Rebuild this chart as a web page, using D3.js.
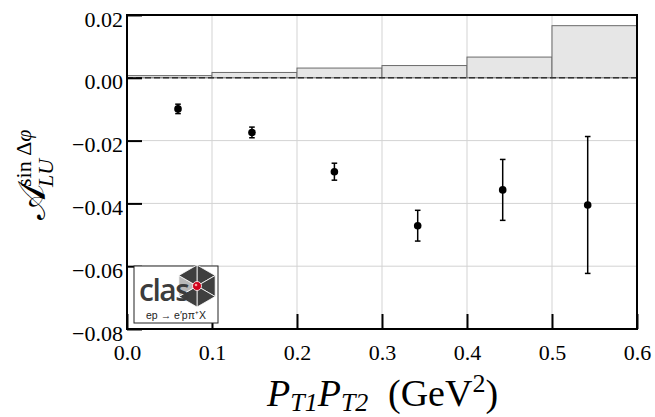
<!DOCTYPE html>
<html lang="en">
<head>
<meta charset="utf-8">
<script src="https://cdn.jsdelivr.net/npm/d3@7/dist/d3.min.js"></script>
<style>
  body { margin: 0; background: #fff; }
</style>
</head>
<body>
<div id="chart"></div>
<script>
// bins of the systematic band (bin edges) and its height
const binEdges = [0.0, 0.1, 0.2, 0.3, 0.4, 0.5, 0.6];
const sysValues = [0.0007, 0.0017, 0.0031, 0.0039, 0.0066, 0.0166];

// measured points
const ptX = [0.060, 0.147, 0.244, 0.342, 0.442, 0.542];
const ptY = [-0.0099, -0.0174, -0.0299, -0.0471, -0.0357, -0.0405];
const ptErr = [0.0015, 0.0017, 0.0027, 0.0049, 0.0097, 0.0218];

const xTicks = [0.0, 0.1, 0.2, 0.3, 0.4, 0.5, 0.6];
const yTicks = [0.02, 0.00, -0.02, -0.04, -0.06, -0.08];

const serif = "'Liberation Serif', 'DejaVu Serif', serif";
const width = 655, height = 417;
const m = { left: 127, right: 18, top: 15, bottom: 88 };

const svg = d3.select("#chart").append("svg")
    .attr("width", width).attr("height", height)
    .style("font-family", serif);

const x = d3.scaleLinear().domain([0, 0.6]).range([m.left, width - m.right]);
const y = d3.scaleLinear().domain([-0.08, 0.02]).range([height - m.bottom, m.top]);

// grid
svg.append("g").selectAll("line")
    .data(xTicks.slice(1, -1)).join("line")
    .attr("x1", d => x(d)).attr("x2", d => x(d))
    .attr("y1", y.range()[1]).attr("y2", y.range()[0])
    .attr("stroke", "#d3d3d3").attr("stroke-width", 1);
svg.append("g").selectAll("line")
    .data(yTicks.slice(1, -1)).join("line")
    .attr("y1", d => y(d)).attr("y2", d => y(d))
    .attr("x1", x.range()[0]).attr("x2", x.range()[1])
    .attr("stroke", "#d3d3d3").attr("stroke-width", 1);

// systematic band
const bins = sysValues.map((v, i) => ({ x0: binEdges[i], x1: binEdges[i + 1], v: v }));
svg.append("g").selectAll("rect")
    .data(bins).join("rect")
    .attr("x", d => x(d.x0)).attr("width", d => x(d.x1) - x(d.x0))
    .attr("y", d => y(d.v)).attr("height", d => y(0) - y(d.v))
    .attr("fill", "#e6e6e6").attr("stroke", "#6a6a6a").attr("stroke-width", 1);

// zero line
svg.append("line")
    .attr("x1", x(0)).attr("x2", x(0.6)).attr("y1", y(0)).attr("y2", y(0))
    .attr("stroke", "#333").attr("stroke-width", 1.6).attr("stroke-dasharray", "6,3");

// points with error bars
const pts = ptX.map((v, i) => ({ x: v, y: ptY[i], e: ptErr[i] }));
const pg = svg.append("g").selectAll("g").data(pts).join("g");
pg.append("line")
    .attr("x1", d => x(d.x)).attr("x2", d => x(d.x))
    .attr("y1", d => y(d.y + d.e)).attr("y2", d => y(d.y - d.e))
    .attr("stroke", "#000").attr("stroke-width", 1.5);
[1, -1].forEach(s => {
  pg.append("line")
    .attr("x1", d => x(d.x) - 2.8).attr("x2", d => x(d.x) + 2.8)
    .attr("y1", d => y(d.y + s * d.e)).attr("y2", d => y(d.y + s * d.e))
    .attr("stroke", "#000").attr("stroke-width", 1.5);
});
pg.append("circle")
    .attr("cx", d => x(d.x)).attr("cy", d => y(d.y)).attr("r", 3.8)
    .attr("fill", "#000");

// frame
svg.append("rect")
    .attr("x", x(0)).attr("y", y(0.02))
    .attr("width", x(0.6) - x(0)).attr("height", y(-0.08) - y(0.02))
    .attr("fill", "none").attr("stroke", "#000").attr("stroke-width", 2);

// axes (ticks inward)
const xAxis = svg.append("g")
    .attr("transform", `translate(0,${y(-0.08)})`)
    .call(d3.axisBottom(x).tickValues(xTicks).tickSizeInner(-15).tickSizeOuter(0)
        .tickFormat(d3.format(".1f")));
xAxis.attr("font-family", null).attr("font-size", 22);
xAxis.select(".domain").remove();
xAxis.selectAll(".tick line").attr("stroke-width", 2);
xAxis.selectAll(".tick text")
    .attr("y", 31).attr("dy", 0).attr("fill", "#000")
    .style("font-family", serif);

const yAxis = svg.append("g")
    .attr("transform", `translate(${x(0)},0)`)
    .call(d3.axisLeft(y).tickValues(yTicks).tickSizeInner(-15).tickSizeOuter(0)
        .tickFormat(d => d3.format(".2f")(d).replace("-", "\u2212")));
yAxis.attr("font-family", null).attr("font-size", 22);
yAxis.select(".domain").remove();
yAxis.selectAll(".tick line").attr("stroke-width", 2);
yAxis.selectAll(".tick text")
    .attr("x", -4).attr("y", 0).attr("dy", 11).attr("fill", "#000")
    .style("font-family", serif);

// x label
const xl = svg.append("text")
    .attr("x", 267).attr("y", 406)
    .attr("font-size", 38);
xl.append("tspan").attr("font-style", "italic").text("P");
xl.append("tspan").attr("font-style", "italic").attr("font-size", 26).attr("dy", 5).text("T1");
xl.append("tspan").attr("font-style", "italic").attr("dy", -5).text("P");
xl.append("tspan").attr("font-style", "italic").attr("font-size", 26).attr("dy", 5).text("T2");
xl.append("tspan").attr("x", 388).attr("dy", -5).text("(GeV");
xl.append("tspan").attr("font-size", 26).attr("dy", -14).text("2");
xl.append("tspan").attr("dy", 14).text(")");

// y label (rotated)
const yl = svg.append("g").attr("transform", "translate(45,220) rotate(-90)");
yl.append("text").attr("x", 0).attr("y", 0)
    .attr("font-size", 38)
    .style("font-family", "'DejaVu Serif', 'Noto Sans', serif")
    .text("\uD835\uDC9C");
yl.append("text").attr("x", 33).attr("y", -14)
    .attr("font-size", 22).text("sin \u0394").append("tspan")
    .attr("font-style", "italic").text("\u03C6");
yl.append("text").attr("x", 33).attr("y", 8)
    .attr("font-size", 22).attr("font-style", "italic").text("LU");

// CLAS logo box
const logo = svg.append("g");
logo.append("rect").attr("x", 134).attr("y", 266).attr("width", 84).attr("height", 57)
    .attr("fill", "#fff").attr("stroke", "#222").attr("stroke-width", 1);
const hc = [197, 286], hr = 21;
const hexPts = d3.range(6).map(i => {
  const a = -Math.PI / 2 + i * Math.PI / 3;
  return [hc[0] + hr * Math.cos(a), hc[1] + hr * Math.sin(a)];
});
hexPts.forEach((p, i) => {
  const q = hexPts[(i + 1) % 6];
  logo.append("path")
    .attr("d", `M${hc[0]},${hc[1]}L${p[0]},${p[1]}L${q[0]},${q[1]}Z`)
    .attr("fill", i === 4 ? "#b8b8b8" : "#3f3f3f")
    .attr("stroke", "#fff").attr("stroke-width", 0.8);
});
logo.append("text").attr("x", 139).attr("y", 301)
    .attr("font-size", 30).attr("font-weight", 600).attr("fill", "#3c3c3c")
    .attr("letter-spacing", -1.5)
    .style("font-family", "'Open Sans', sans-serif").text("clas");
logo.append("circle").attr("cx", hc[0]).attr("cy", hc[1]).attr("r", 4.5)
    .attr("fill", "#d0021b").attr("stroke", "#fff").attr("stroke-width", 0.8);
logo.append("circle").attr("cx", hc[0] - 1).attr("cy", hc[1] - 1).attr("r", 1.3)
    .attr("fill", "#f6a0a0");
logo.append("text").attr("x", 176).attr("y", 319).attr("text-anchor", "middle")
    .attr("font-size", 10.5).attr("fill", "#222")
    .style("font-family", "'Liberation Sans', sans-serif")
    .text("ep \u2192 e\u2032p\u03C0\u207AX");
</script>
</body>
</html>
